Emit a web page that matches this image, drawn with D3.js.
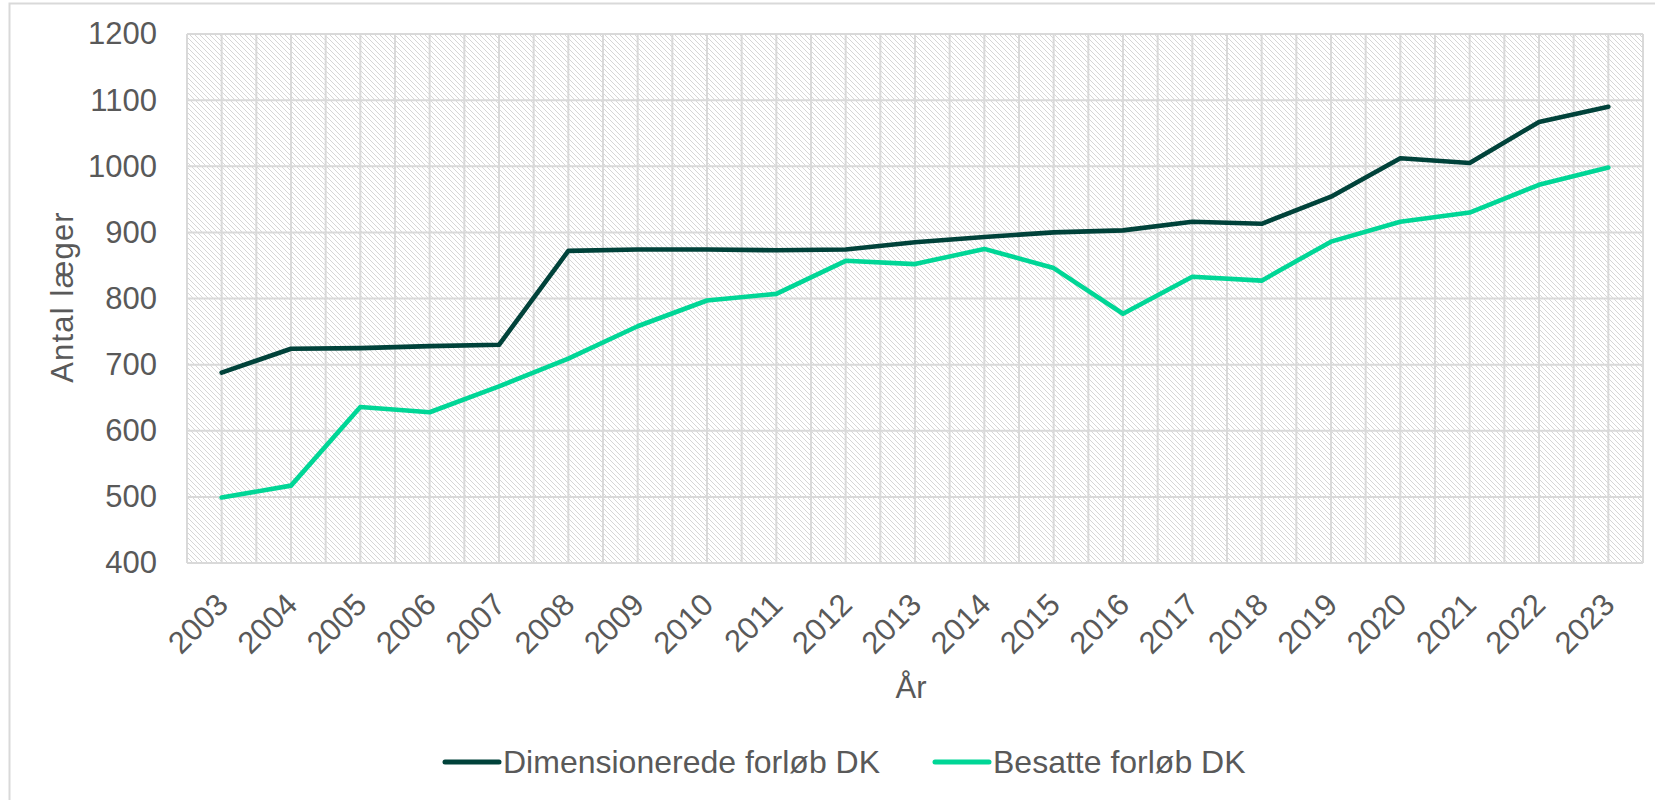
<!DOCTYPE html>
<html><head><meta charset="utf-8">
<script src="https://cdn.jsdelivr.net/npm/d3@7"></script>
<style>
html,body{margin:0;padding:0;background:#fff;}
svg{display:block;font-family:"Liberation Sans",Arial,sans-serif;}
</style></head>
<body>
<svg id="c" width="1655" height="800"></svg>
<script>
const years = [2003,2004,2005,2006,2007,2008,2009,2010,2011,2012,2013,2014,2015,2016,2017,2018,2019,2020,2021,2022,2023];
const dimensionerede = [688,724,725,728,730,872,874,874,873,874,885,893,900,903,916,913,954,1012,1005,1067,1090];
const besatte = [499,517,636,628,667,709,758,797,807,857,852,875,846,777,833,827,886,916,930,972,998];
const yTicks = [400,500,600,700,800,900,1000,1100,1200];
const seriesNames = ["Dimensionerede forløb DK","Besatte forløb DK"];
const seriesColors = ["#00423a","#00d696"];
const yTitle = "Antal læger";
const xTitle = "År";

const svg = d3.select("#c");
const L = 187, R = 1643, T = 34, B = 563;
const x = d3.scaleLinear().domain([years[0]-0.5, years[years.length-1]+0.5]).range([L, R]);
const y = d3.scaleLinear().domain([400,1200]).range([B, T]);

// outer frame (cut off at right/bottom)
svg.append("rect").attr("x",9.5).attr("y",3.5).attr("width",1700).attr("height",900)
  .attr("fill","none").attr("stroke","#d9d9d9").attr("stroke-width",2);

// hatch pattern
const defs = svg.append("defs");
const pat = defs.append("pattern").attr("id","hatch").attr("patternUnits","userSpaceOnUse")
  .attr("width",5).attr("height",5);
pat.append("rect").attr("width",5).attr("height",5).attr("fill","#ffffff");
pat.append("path").attr("d","M-1,-1L6,6M-1,4L1,6M4,-1L6,1").attr("stroke","#d6d6d6").attr("stroke-width",1);

svg.append("rect").attr("x",L).attr("y",T).attr("width",R-L).attr("height",B-T).attr("fill","url(#hatch)");

// gridlines
const g = svg.append("g");
const halfSteps = d3.range(years[0]-0.5, years[years.length-1]+0.51, 0.5);
g.selectAll("line.v").data(halfSteps).join("line")
  .attr("x1",d=>x(d)).attr("x2",d=>x(d)).attr("y1",T).attr("y2",B)
  .attr("stroke","#d9d9d9").attr("stroke-width",2);
g.selectAll("line.h").data(yTicks).join("line")
  .attr("x1",L).attr("x2",R).attr("y1",d=>y(d)).attr("y2",d=>y(d))
  .attr("stroke","#d9d9d9").attr("stroke-width",2);

// y axis
const ya = svg.append("g").attr("transform",`translate(${L},0)`)
  .call(d3.axisLeft(y).tickValues(yTicks).tickSize(0).tickPadding(30).tickFormat(d3.format("d")));
ya.select(".domain").remove();
ya.selectAll("text").attr("font-size",31).attr("fill","#595959").attr("font-family","Liberation Sans, Arial, sans-serif");

// x axis
const xa = svg.append("g").attr("transform",`translate(0,${B})`)
  .call(d3.axisBottom(x).tickValues(years).tickSize(0).tickFormat(d3.format("d")));
xa.select(".domain").remove();
xa.selectAll("text")
  .attr("font-size",31).attr("fill","#595959").attr("font-family","Liberation Sans, Arial, sans-serif")
  .attr("text-anchor","end").attr("y",0).attr("dy","0.35em")
  .attr("transform","translate(0,36) rotate(-45)");

// titles
svg.append("text").attr("transform",`translate(73,297) rotate(-90)`)
  .attr("text-anchor","middle").attr("font-size",31).attr("letter-spacing",1.2)
  .attr("fill","#595959").text(yTitle);
svg.append("text").attr("x",(L+R)/2 - 4).attr("y",698)
  .attr("text-anchor","middle").attr("font-size",31).attr("fill","#595959").text(xTitle);

// lines
const line = d3.line().x((d,i)=>x(years[i])).y(d=>y(d));
[dimensionerede, besatte].forEach((s,k)=>{
  svg.append("path").datum(s).attr("d",line).attr("fill","none")
    .attr("stroke",seriesColors[k]).attr("stroke-width",4.6)
    .attr("stroke-linejoin","round").attr("stroke-linecap","round");
});

// legend
const legX = [445, 935];
seriesNames.forEach((n,k)=>{
  const lg = svg.append("g").attr("transform",`translate(${legX[k]},762)`);
  lg.append("line").attr("x1",0).attr("x2",54).attr("y1",0).attr("y2",0)
    .attr("stroke",seriesColors[k]).attr("stroke-width",5).attr("stroke-linecap","round");
  lg.append("text").attr("x",58).attr("y",0).attr("dy","0.35em")
    .attr("font-size",32).attr("fill","#595959").text(n);
});
</script>
</body></html>
